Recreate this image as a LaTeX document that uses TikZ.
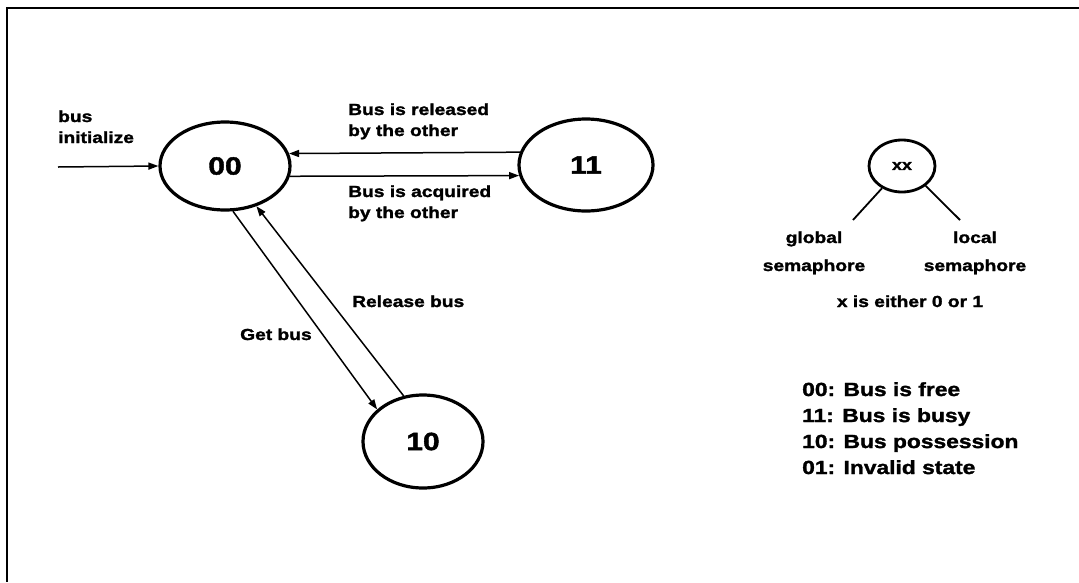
\documentclass[tikz,border=0pt]{standalone}
\usepackage{fontspec}
\setmainfont{Liberation Sans}[FakeStretch=1.2, FakeBold=1.6]
\usetikzlibrary{shapes.geometric,arrows.meta}
\begin{document}
\begin{tikzpicture}[x=1pt,y=-1pt,
  state/.style={draw, ellipse, line width=3.2pt, inner sep=0pt, minimum width=130pt, minimum height=88pt, font=\bfseries\fontsize{25}{30}\selectfont},
  lab/.style={inner sep=0pt, anchor=base west, font=\bfseries\fontsize{16}{20}\selectfont},
  clab/.style={lab, anchor=base},
  leg/.style={lab, font=\bfseries\fontsize{19}{24}\selectfont},
  conn/.style={line width=1.5pt, -{Triangle[length=10pt,width=7pt]}},
  tick/.style={line width=1.8pt},
]
\fill[white] (0,0) rectangle (1079,582);
\useasboundingbox (0,0) rectangle (1079,582);
\draw[line width=2.5pt] (1079,8) -- (7,8) -- (7,582);

\node[state] (s00) at (225,166) {00};
\node[state, minimum width=134pt, minimum height=92pt] (s11) at (586,165) {11};
\node[state, minimum width=120pt, minimum height=93pt] (s10) at (423,441.5) {10};
\node[state, line width=2.8pt, minimum width=66pt, minimum height=52pt, font=\bfseries\fontsize{15}{18}\selectfont] (sxx) at (902,166) {xx};

\coordinate (init) at (58,167);
\draw[conn] (init) -- (s00.west);
\draw[conn] (s11.169.6) -- (s00.11.8);
\draw[conn] (s00.-9) -- (s11.189.5);
\draw[conn] (s00.-80) -- (s10.145.6);
\draw[conn] (s10.113) -- (s00.-52);

\coordinate (gl) at (853,220);
\coordinate (lc) at (960,220);
\draw[tick] (sxx.-132) -- (gl);
\draw[tick] (sxx.-40) -- (lc);

\node[lab] (l1a) at (58,122) {bus};
\node[lab] (l1b) at (58,143) {initialize};
\node[lab] (l2a) at (348,115) {Bus is released};
\node[lab] (l2b) at (348,136) {by the other};
\node[lab] (l3a) at (348,197) {Bus is acquired};
\node[lab] (l3b) at (348,218) {by the other};
\node[lab] (l4) at (352,307) {Release bus};
\node[lab] (l5) at (240,340) {Get bus};

\node[clab] (g1) at (814,243) {global};
\node[clab] (g2) at (814,271) {semaphore};
\node[clab] (c1) at (975,243) {local};
\node[clab] (c2) at (975,271) {semaphore};
\node[clab] (xe) at (910,307) {x is either 0 or 1};

\node[leg] (k1) at (802,396) {00: Bus is free};
\node[leg] (k2) at (802,422) {11: Bus is busy};
\node[leg] (k3) at (802,448) {10: Bus possession};
\node[leg] (k4) at (802,474) {01: Invalid state};
\end{tikzpicture}
\end{document}
